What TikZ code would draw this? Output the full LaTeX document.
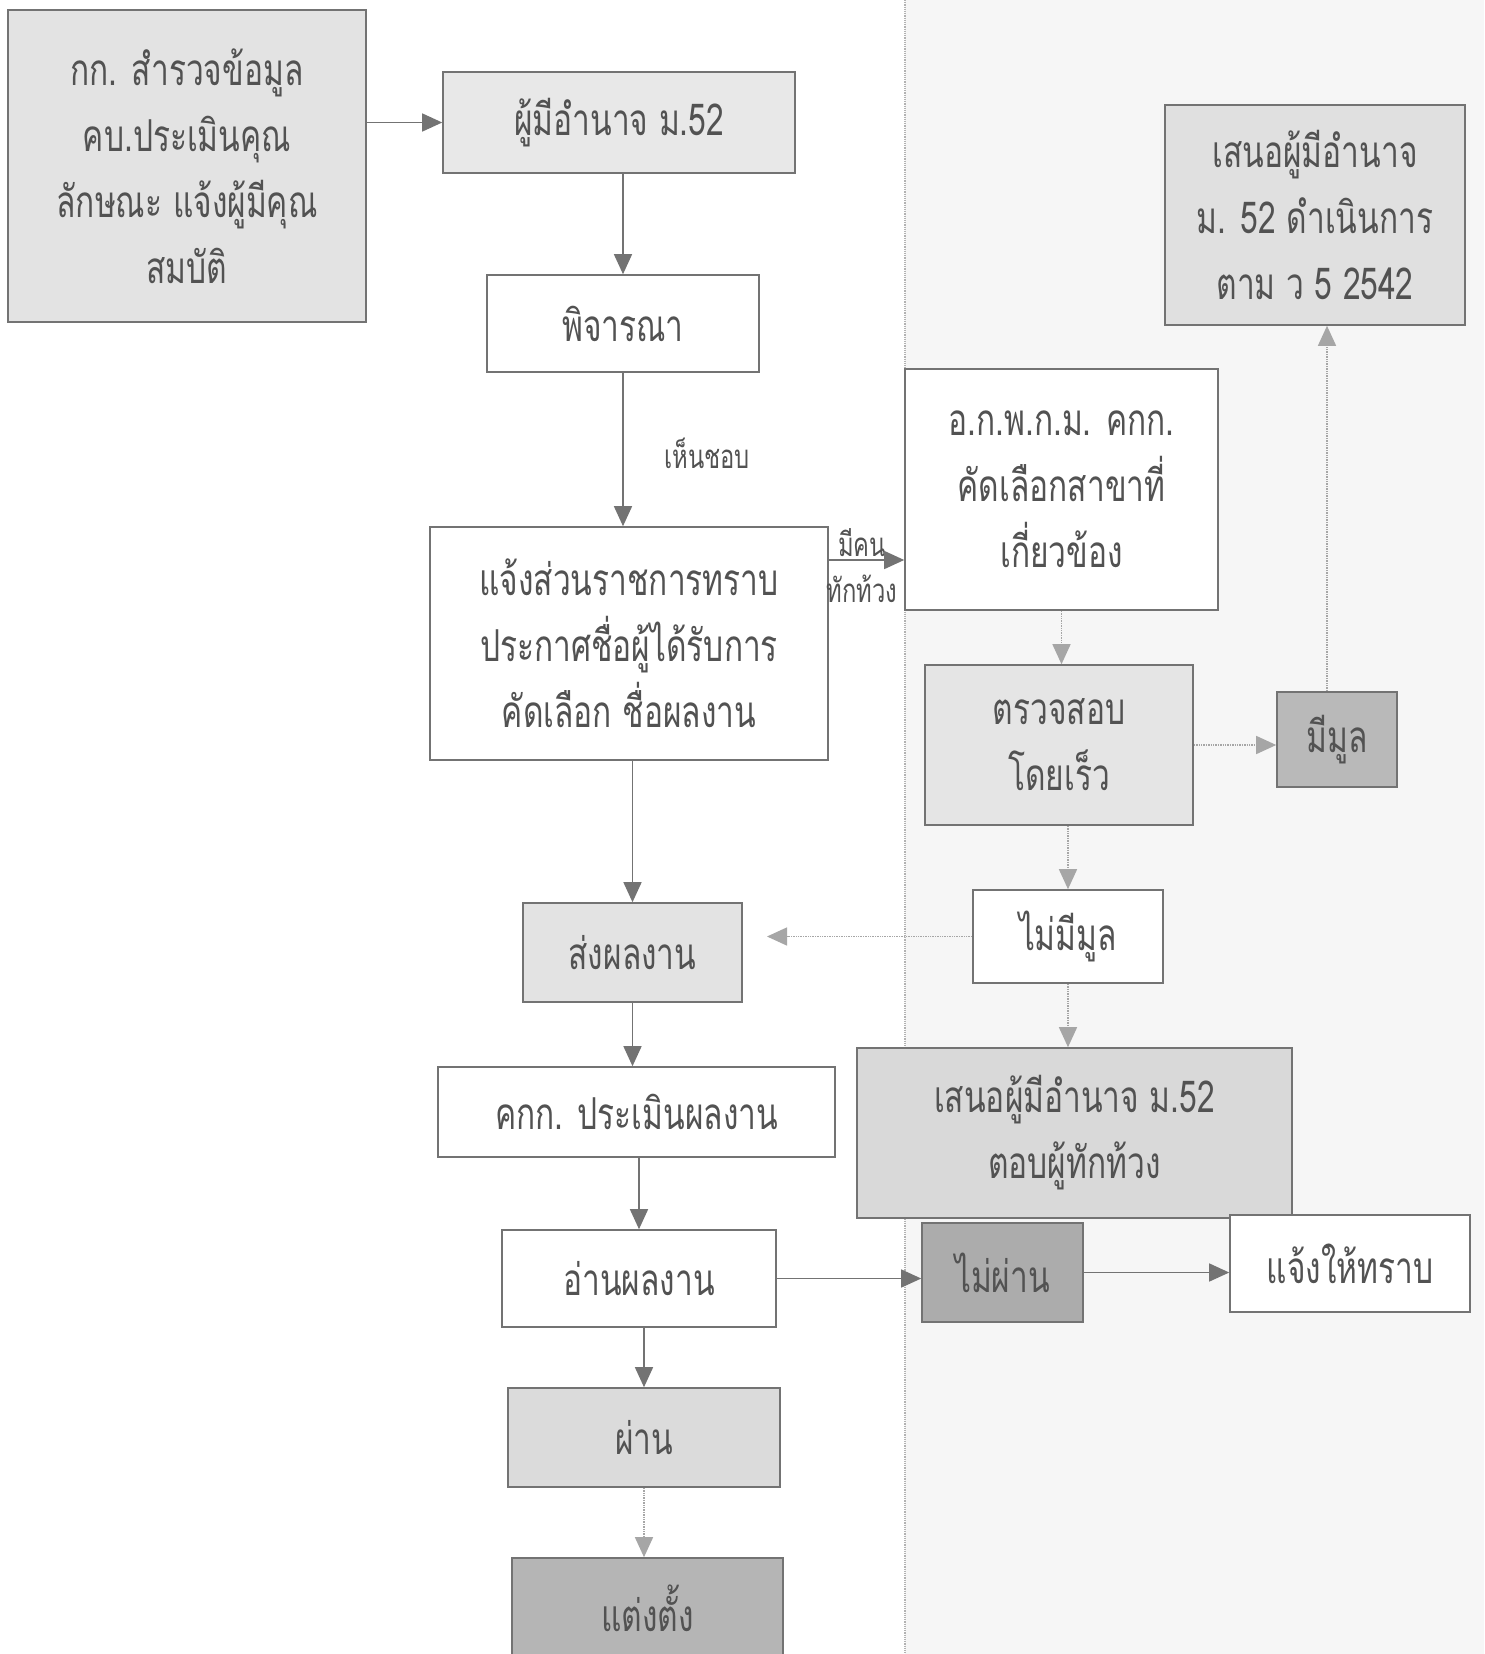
\documentclass[tikz,border=0pt]{standalone}
\usepackage{fontspec}
\setmainfont[Script=Thai,FakeStretch=0.72]{Loma}
\usetikzlibrary{arrows.meta,calc}
\begin{document}
\begin{tikzpicture}[x=1pt,y=-1pt,
  box/.style={draw=black!55, line width=1.6pt, text=black!68, align=center, inner sep=0pt,
    font=\fontsize{44}{66}\selectfont},
  lbl/.style={text=black!68, align=center, inner sep=0pt, font=\fontsize{33}{46}\selectfont},
  fl/.style={draw=black!55, line width=1.4pt, -{Triangle[length=20pt,width=18pt]}},
  lt/.style={draw=black!35, line width=1.4pt, densely dotted, -{Triangle[length=20pt,width=18pt]}}]
\useasboundingbox (0,0) rectangle (1484,1654);
\clip (0,0) rectangle (1484,1654);
\fill[white] (0,0) rectangle (1484,1654);
\fill[gray!7] (905,0) rectangle (1484,1654);
\draw[black!30, line width=1.2pt, densely dotted] (905,0) -- (905,1654);
% nodes
\node[box, fill=gray!22, minimum width=358pt, minimum height=312pt] (A) at (187,166)
  {กก. สำรวจข้อมูล\\คบ.ประเมินคุณ\\ลักษณะ แจ้งผู้มีคุณ\\สมบัติ};
\node[box, fill=gray!18, minimum width=352pt, minimum height=101pt] (B) at (619,122.5) {ผู้มีอำนาจ ม.52};
\node[box, fill=white, minimum width=272pt, minimum height=97pt] (C) at (623,323.5) {พิจารณา};
\node[box, fill=white, minimum width=398pt, minimum height=233pt] (D) at (629,643.5)
  {แจ้งส่วนราชการทราบ\\ประกาศชื่อผู้ได้รับการ\\คัดเลือก ชื่อผลงาน};
\node[box, fill=white, minimum width=313pt, minimum height=241pt] (E) at (1061.5,489.5)
  {อ.ก.พ.ก.ม. คกก.\\คัดเลือกสาขาที่\\เกี่ยวข้อง};
\node[box, fill=gray!20, minimum width=268pt, minimum height=160pt] (F) at (1059,745) {ตรวจสอบ\\โดยเร็ว};
\node[box, fill=gray!55, minimum width=120pt, minimum height=95pt] (N) at (1337,739.5) {มีมูล};
\node[box, fill=gray!24, minimum width=300pt, minimum height=220pt] (G) at (1315,215)
  {เสนอผู้มีอำนาจ\\ม. 52 ดำเนินการ\\ตาม ว 5 2542};
\node[box, fill=white, minimum width=190pt, minimum height=93pt] (H) at (1068,936.5) {ไม่มีมูล};
\node[box, fill=gray!30, minimum width=435pt, minimum height=170pt] (K) at (1074.5,1133)
  {เสนอผู้มีอำนาจ ม.52\\ตอบผู้ทักท้วง};
\node[box, fill=gray!22, minimum width=219pt, minimum height=99pt] (I) at (632.5,952.5) {ส่งผลงาน};
\node[box, fill=white, minimum width=397pt, minimum height=90pt] (J) at (636.5,1112) {คกก. ประเมินผลงาน};
\node[box, fill=white, minimum width=274pt, minimum height=97pt] (J2) at (639,1278.5) {อ่านผลงาน};
\node[box, fill=gray!65, minimum width=161pt, minimum height=99pt] (P) at (1002.5,1272.5) {ไม่ผ่าน};
\node[box, fill=white, minimum width=240pt, minimum height=97pt] (Q) at (1350,1263.5) {แจ้งให้ทราบ};
\node[box, fill=gray!28, minimum width=272pt, minimum height=99pt] (L) at (644,1437.5) {ผ่าน};
\node[box, fill=gray!58, minimum width=271pt, minimum height=100pt] (M) at (647.5,1608) {แต่งตั้ง};
% labels
\node[lbl] (ok) at (707,453) {เห็นชอบ};
\node[lbl] (obj) at (862,566) {มีคน\\ทักท้วง};
% connectors
\draw[fl] (A.east |- B.west) -- (B.west);
\draw[fl] (B.south -| C.north) -- (C.north);
\draw[fl] (C.south) -- (C.south |- D.north);
\coordinate (dk) at (828,560);
\draw[fl] (D.east |- dk) -- (dk -| E.west);
\draw[lt] (E.south) -- (E.south |- F.north);
\draw[lt] (F.east) -- (F.east -| N.west);
\path (N.north) ++(-10,0) coordinate (n1);
\draw[lt] (n1) -- (n1 |- G.south);
\draw[lt] (H.north |- F.south) -- (H.north);
\coordinate (hi) at (767,0);
\draw[lt] (H.west) -- (H.west -| hi);
\draw[lt] (H.south) -- (H.south |- K.north);
\draw[fl] (I.north |- D.south) -- (I.north);
\draw[fl] (I.south) -- (I.south |- J.north);
\draw[fl] (J2.north |- J.south) -- (J2.north);
\draw[fl] (J2.east) -- (J2.east -| P.west);
\draw[fl] (P.east) -- (P.east -| Q.west);
\draw[fl] (L.north |- J2.south) -- (L.north);
\draw[lt] (L.south) -- (L.south |- M.north);
\end{tikzpicture}
\end{document}
